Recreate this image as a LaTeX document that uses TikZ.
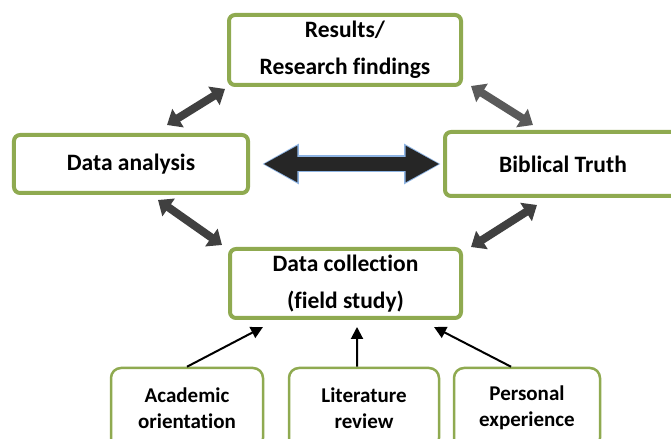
\documentclass[tikz,border=0pt]{standalone}
\usepackage{fontspec}
\setmainfont[Ligatures=NoCommon]{Carlito}
\usetikzlibrary{arrows.meta}
\definecolor{boxgreen}{HTML}{8FAA50}
\definecolor{arrdark}{HTML}{404040}
\definecolor{arrgrey}{HTML}{5A5A5A}
\definecolor{arrblue}{HTML}{8EB4E3}
\definecolor{arrfill}{HTML}{262626}

\begin{document}
\begin{tikzpicture}[x=1bp,y=1bp,
  mainbox/.style={draw=boxgreen, line width=4bp, rounded corners=6bp, align=center,
    inner sep=0pt, font=\bfseries\fontsize{23.5bp}{37bp}\selectfont},
  subbox/.style={draw=boxgreen, line width=2.5bp, rounded corners=10bp, align=center,
    inner sep=0pt, minimum height=80bp, font=\bfseries\fontsize{21bp}{26bp}\selectfont},
  bigarrow/.style={line width=8bp,
    {Triangle[length=13bp,width=21bp]}-{Triangle[length=13bp,width=21bp]}},
  thinarrow/.style={line width=2bp, -{Triangle[length=12bp,width=12bp]}}]
  \useasboundingbox (0,0) rectangle (671,439);
  % boxes
  \node[mainbox, minimum width=232bp, minimum height=70bp] (res) at (345,389) {Results/\\Research findings};
  \node[mainbox, minimum width=234bp, minimum height=58bp] (ana) at (131,275) {Data analysis};
  \node[mainbox, minimum width=236bp, minimum height=64bp] (bib) at (563,275) {Biblical Truth};
  \node[mainbox, minimum width=231bp, minimum height=69bp] (col) at (345.5,155.5) {Data collection\\(field study)};
  \node[subbox, minimum width=152bp] (aca) at (187,31) {Academic\\orientation};
  \node[subbox, minimum width=150bp] (lit) at (364,31) {Literature\\review};
  \node[subbox, minimum width=146bp] (per) at (527,31) {Personal\\experience};
  % big arrows between the boxes
  \draw[bigarrow, arrdark] ([shift={(-83,8)}]ana.north east) -- ([shift={(-2,-2)}]res.south west);
  \draw[bigarrow, arrgrey] ([shift={(8,1)}]res.south east) -- ([shift={(90,5)}]bib.north west);
  \draw[bigarrow, arrdark] ([shift={(-92,-5)}]ana.south east) -- ([shift={(-6,2)}]col.north west);
  \draw[bigarrow, arrdark] ([shift={(8,0)}]col.north east) -- ([shift={(94,-7)}]bib.south west);
  \draw[line width=17bp, arrblue, {Triangle[length=37bp,width=38bp]}-{Triangle[length=37bp,width=38bp]}]
    ([xshift=12]ana.east) -- ([xshift=-2]bib.west);
  \draw[line width=14bp, arrfill, {Triangle[length=34bp,width=34bp]}-{Triangle[length=34bp,width=34bp]}]
    ([xshift=13.5]ana.east) -- ([xshift=-3.5]bib.west);
  % inputs to data collection
  \draw[thinarrow] (aca.north) -- ([shift={(35,-7)}]col.south west);
  \draw[thinarrow] ([xshift=-7]lit.north) -- ([shift={(11.5,-7)}]col.south);
  \draw[thinarrow] ([xshift=-16]per.north) -- ([shift={(-29,-7)}]col.south east);
\end{tikzpicture}
\end{document}
